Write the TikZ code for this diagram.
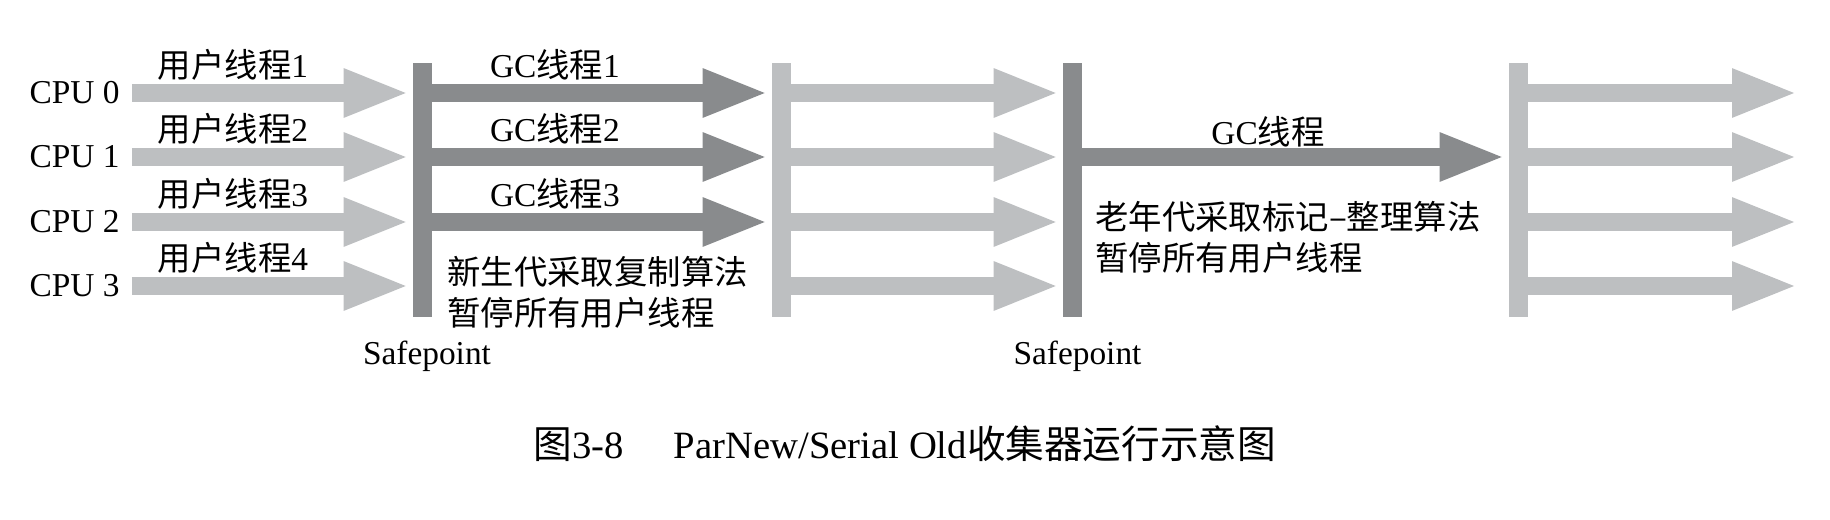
\documentclass[tikz,border=0pt]{standalone}
\usepackage{fontspec}
\setmainfont{Liberation Serif}
\newfontfamily\cjk{Noto Sans CJK SC}
\newcommand\zh[1]{{\cjk #1}}
\usetikzlibrary{arrows.meta,positioning}
\definecolor{gclair}{RGB}{189,191,193}
\definecolor{gfonce}{RGB}{137,139,141}
\tikzset{
  spbar/.style={fill=#1,inner sep=0pt,minimum width=0.38cm,minimum height=5.08cm},
  fl/.style={draw=#1,line width=0.35cm,-{Triangle[length=1.32cm,width=0.88cm]},
    shorten >=0.06cm},
  lbl/.style={inner sep=0pt,font=\fontsize{19}{23.3}\selectfont},
  txt/.style={lbl,align=left,anchor=west,font=\fontsize{19}{23.3}\selectfont\cjk},
}

\begin{document}
\begin{tikzpicture}[x=0.02cm,y=-0.02cm]
  \useasboundingbox (0,0) rectangle (1830,520);
  \node[spbar=gfonce] (sp1) at (422.5,190) {};
  \node[spbar=gclair] (sp2) at (781.5,190) {};
  \node[spbar=gfonce] (sp3) at (1072.5,190) {};
  \node[spbar=gclair] (sp4) at (1518.5,190) {};
  \node[lbl,below=0.46cm of sp1,xshift=0.09cm] (safe1) {Safepoint};
  \node[lbl,below=0.46cm of sp3,xshift=0.1cm] (safe2) {Safepoint};
  \foreach \i/\n/\y in {0/1/93,1/2/157,2/3/222,3/4/286}{
    \coordinate (r\i) at (0,\y);
    \coordinate (fin\i) at (1801,\y);
    \node[lbl,anchor=east] (cpu\i) at (120,\y) {CPU \i};
    \node[lbl] (u\n) at (233,\y-28) {\zh{用户线程}\n};
    \draw[fl=gclair,shorten <=0.24cm] (cpu\i.east) -- (cpu\i.east -| sp1.west);
    \draw[fl=gclair] (sp2.east |- r\i) -- (sp3.west |- r\i);
    \draw[fl=gclair] (sp4.east |- r\i) -- (fin\i);}
  \foreach \i/\n/\y in {0/1/93,1/2/157,2/3/222}{
    \node[lbl] (g\n) at (555,\y-28) {GC\zh{线程}\n};
    \draw[fl=gfonce] (sp1.east |- r\i) -- (sp2.west |- r\i);}
  \draw[fl=gfonce] (sp3.east |- r1) -- (sp4.west |- r1);
  \node[lbl] (g) at (1268,132) {GC\zh{线程}};
  \node[txt] (jeune) at (447,292.5) {新生代采取复制算法\\暂停所有用户线程};
  \node[txt] (vieux) at (1095,237) {老年代采取标记–整理算法\\暂停所有用户线程};
  \node[inner sep=0pt,font=\fontsize{22}{26}\selectfont] (titre) at (905,444)
    {\zh{图}3-8\hspace{1cm}ParNew/Serial Old\zh{收集器运行示意图}};
\end{tikzpicture}
\end{document}
